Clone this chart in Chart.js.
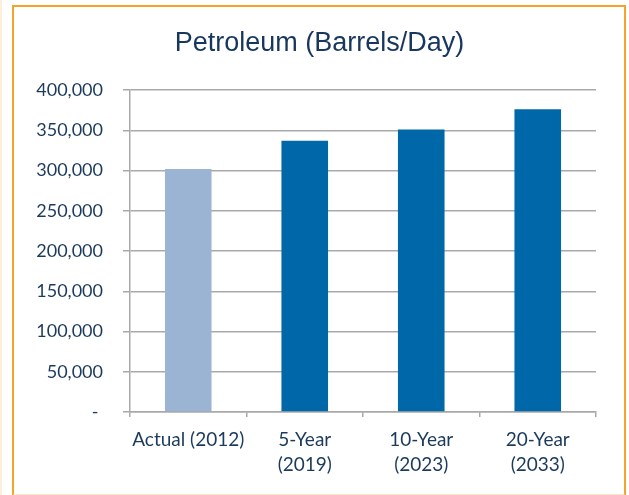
<!DOCTYPE html>
<html>
<head>
<meta charset="utf-8">
<script src="https://cdn.jsdelivr.net/npm/chart.js@4.4.1/dist/chart.umd.min.js"></script>
<style>
  html, body { margin: 0; padding: 0; background: #ffffff; }
  #wrap { position: relative; width: 629px; height: 495px; overflow: hidden; }
  #c { position: absolute; left: 0; top: 0; }
  #frame { position: absolute; left: 12px; top: 5px; width: 610px; height: 487px;
           border-left: 2px solid #F6A32B; border-top: 2px solid #F6A32B; border-right: 2px solid #F6A32B;
           border-bottom: 2px solid #FCE6C6; pointer-events: none; }
  #edge { position: absolute; left: 0; top: 0; width: 2px; height: 495px; background: #FDEFD9; }
</style>
</head>
<body>
<div id="wrap">
  <canvas id="c" width="629" height="495"></canvas>
  <div id="edge"></div>
  <div id="frame"></div>
</div>
<script>
const categories = [["Actual (2012)"], ["5-Year", "(2019)"], ["10-Year", "(2023)"], ["20-Year", "(2033)"]];
const barrelsPerDay = [302000, 337000, 351000, 376000];
const barColors = ["#9BB4D3", "#0067A8", "#0067A8", "#0067A8"];
const yTickValues = [0, 50000, 100000, 150000, 200000, 250000, 300000, 350000, 400000];
const chartTitle = "Petroleum (Barrels/Day)";

const textColor = "#1B3A5C";
const gridColor = "#A9A9A9";

new Chart(document.getElementById("c"), {
  type: "bar",
  data: {
    labels: categories,
    datasets: [{
      data: barrelsPerDay,
      backgroundColor: barColors,
      borderWidth: 0,
      categoryPercentage: 1.0,
      barPercentage: 0.4
    }]
  },
  options: {
    responsive: false,
    animation: false,
    devicePixelRatio: 1,
    layout: { padding: { left: 10, right: 0, top: 0, bottom: 0 } },
    plugins: {
      legend: { display: false },
      tooltip: { enabled: false },
      title: {
        display: true,
        text: chartTitle,
        color: "#17375E",
        font: { family: "'Liberation Sans', Arial, sans-serif", size: 27, weight: "normal", lineHeight: 1.2 },
        padding: { top: 27, bottom: 30.6 }
      }
    },
    scales: {
      x: {
        grid: { drawOnChartArea: false, drawTicks: true, tickLength: 5, color: gridColor, lineWidth: 1.5, offset: true },
        border: { display: true, color: gridColor, width: 1.5 },
        ticks: { color: textColor, font: { family: "Lato, sans-serif", size: 19, lineHeight: 1.3 }, padding: 11, maxRotation: 0, autoSkip: false },
        afterFit(scale) { scale.height = 83; }
      },
      y: {
        position: "left",
        min: 0,
        max: 400000,
        afterBuildTicks(scale) { scale.ticks = yTickValues.map(v => ({ value: v })); },
        grid: { color: gridColor, lineWidth: 1.5, tickLength: 7 },
        border: { display: true, color: gridColor, width: 1.5 },
        ticks: {
          color: textColor,
          font: { family: "Lato, sans-serif", size: 18 },
          padding: 20,
          callback: (v) => v === 0 ? "-\u2009\u2009" : v.toLocaleString("en-US")
        },
        afterFit(scale) { scale.width = 120; }
      },
      yRight: {
        position: "right",
        display: true,
        grid: { display: false, drawTicks: false },
        border: { display: false },
        ticks: { display: false },
        afterFit(scale) { scale.width = 33; }
      }
    }
  }
});
</script>
</body>
</html>
